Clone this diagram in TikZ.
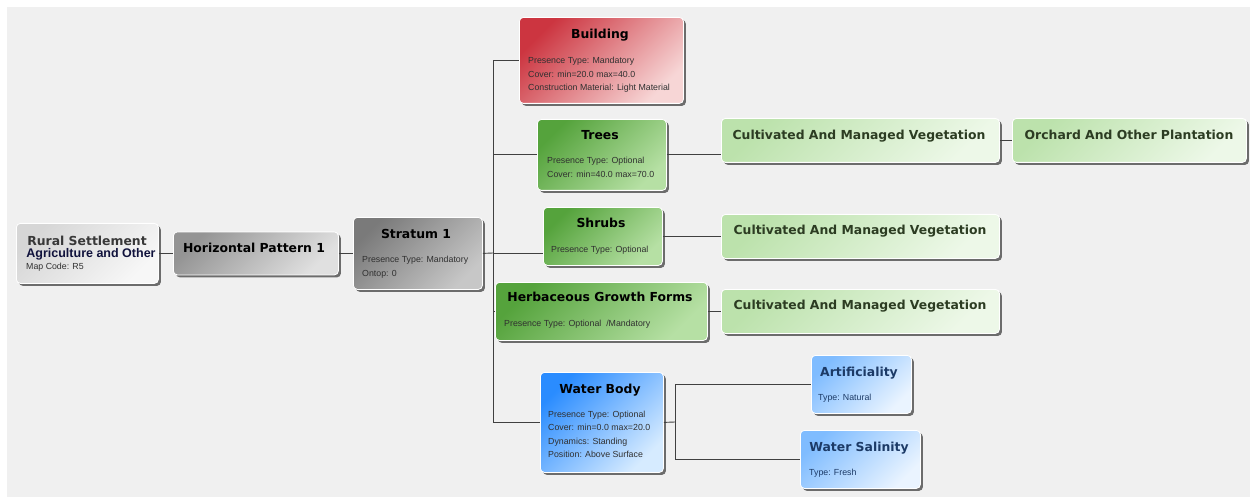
\documentclass[tikz,border=0pt]{standalone}
\usepackage{fontspec}
\setmainfont{Liberation Sans}
\newfontfamily\ttlfont{DejaVu Sans}
\usetikzlibrary{positioning,shadows}

\definecolor{bgcol}{HTML}{F0F0F0}
\definecolor{linecol}{HTML}{404040}
\definecolor{infocol}{HTML}{303030}
\definecolor{navy}{HTML}{10123C}
\definecolor{darkgreen}{HTML}{2C3C22}
\definecolor{darkblue}{HTML}{1C3A66}
\definecolor{redA}{HTML}{CC3540}
\definecolor{redB}{HTML}{F7D6D6}
\definecolor{greenA}{HTML}{55A33C}
\definecolor{greenB}{HTML}{B6E0A4}
\definecolor{paleA}{HTML}{BCE2AC}
\definecolor{paleB}{HTML}{EDF8E8}
\definecolor{blueA}{HTML}{2A8CFF}
\definecolor{blueB}{HTML}{D6EBFF}
\definecolor{skyA}{HTML}{7FBCFF}
\definecolor{skyB}{HTML}{EAF4FF}

\begin{document}
\begin{tikzpicture}[x=1pt, y=-1pt,
  box/.style={draw=white, line width=0.8pt, rounded corners=4pt, anchor=north west,
              inner sep=0pt,
              drop shadow={shadow xshift=2.5pt, shadow yshift=-2.5pt,
                           fill=black!75, opacity=0.75, draw=none}},
  tint/.style 2 args={top color=#1, bottom color=#2, shading angle=45},
  ttl/.style={font=\ttlfont\bfseries\fontsize{12.4}{14}\selectfont, inner sep=0pt, anchor=base},
  info/.style={font=\fontsize{8.8}{13.5}\selectfont, text=infocol, align=left,
               anchor=north west, inner sep=0pt},
  conn/.style={draw=linecol, line width=0.9pt}]

  \useasboundingbox (0,0) rectangle (1250,497);
  \fill[bgcol] (7,7) rectangle (1250,497);

  % left chain
  \node[box, tint={black!16}{white!97!black}, minimum width=142, minimum height=60] (rural) at (16,223) {};
  \node[ttl, text=black!78] (rural-t) at (87,245.5) {Rural Settlement};
  \node[font=\bfseries\fontsize{12.5}{14}\selectfont, text=navy, inner sep=0pt, anchor=base] (rural-s) at (91,257.5) {Agriculture and Other};
  \node[info] (rural-i) at (26,263) {Map Code: R5};

  \node[box, tint={black!42}{black!12}, minimum width=165, minimum height=43] (hp) at (173,231.5) {};
  \node[ttl] (hp-t) at (254,252.5) {Horizontal Pattern 1};

  \node[box, tint={black!52}{black!22}, minimum width=129, minimum height=72] (strat) at (353,217) {};
  \node[ttl] (strat-t) at (416,238.5) {Stratum 1};
  \node[info] (strat-i) at (362,256) {Presence Type: Mandatory\\Ontop: 0};

  % strata elements
  \node[box, tint={redA}{redB}, minimum width=164, minimum height=86] (bld) at (519,17) {};
  \node[ttl] (bld-t) at (600,38.5) {Building};
  \node[info] (bld-i) at (528,57) {Presence Type: Mandatory\\Cover: min=20.0 max=40.0\\Construction Material: Light Material};

  \node[box, tint={greenA}{greenB}, minimum width=129, minimum height=71] (trees) at (537,119) {};
  \node[ttl] (trees-t) at (600,139.5) {Trees};
  \node[info] (trees-i) at (547,157) {Presence Type: Optional\\Cover: min=40.0 max=70.0};

  \node[box, tint={greenA}{greenB}, minimum width=119, minimum height=58] (shrub) at (543,207) {};
  \node[ttl] (shrub-t) at (601,227.5) {Shrubs};
  \node[info] (shrub-i) at (551,246) {Presence Type: Optional};

  \node[box, tint={greenA}{greenB}, minimum width=212, minimum height=58] (herb) at (495,282) {};
  \node[ttl] (herb-t) at (600,301.5) {Herbaceous Growth Forms};
  \node[info] (herb-i) at (504,320) {Presence Type: Optional \ /Mandatory};

  \node[box, tint={blueA}{blueB}, minimum width=123, minimum height=100] (wb) at (540,372) {};
  \node[ttl] (wb-t) at (600,393.5) {Water Body};
  \node[info] (wb-i) at (548,410.5) {Presence Type: Optional\\Cover: min=0.0 max=20.0\\Dynamics: Standing\\Position: Above Surface};

  % properties
  \node[box, tint={paleA}{paleB}, minimum width=278, minimum height=44] (cult1) at (721,118) {};
  \node[ttl, text=darkgreen] (cult1-t) at (859,139.5) {Cultivated And Managed Vegetation};
  \node[box, tint={paleA}{paleB}, minimum width=234, minimum height=44] (orch) at (1012,118) {};
  \node[ttl, text=darkgreen] (orch-t) at (1129,139.5) {Orchard And Other Plantation};

  \node[box, tint={paleA}{paleB}, minimum width=278, minimum height=44] (cult2) at (721,214) {};
  \node[ttl, text=darkgreen] (cult2-t) at (860,235) {Cultivated And Managed Vegetation};

  \node[box, tint={paleA}{paleB}, minimum width=278, minimum height=44] (cult3) at (721,289) {};
  \node[ttl, text=darkgreen] (cult3-t) at (860,309.5) {Cultivated And Managed Vegetation};

  \node[box, tint={skyA}{skyB}, minimum width=100, minimum height=58] (art) at (811,355) {};
  \node[ttl, text=darkblue] (art-t) at (859,376.5) {Artificiality};
  \node[info, text=darkblue] (art-i) at (818,394) {Type: Natural};

  \node[box, tint={skyA}{skyB}, minimum width=120, minimum height=58] (sal) at (800,430) {};
  \node[ttl, text=darkblue] (sal-t) at (859,451.5) {Water Salinity};
  \node[info, text=darkblue] (sal-i) at (809,469) {Type: Fresh};

  % connectors
  \coordinate (fork) at (493,253);
  \coordinate (wfork) at (675,422);

  \draw[conn] (rural.east) -- (hp.west);
  \draw[conn] (hp.east) -- (strat.west);
  \draw[conn] (strat.east) -- (fork);
  \draw[conn] (fork) |- (bld.west);
  \draw[conn] (fork) |- (trees.west);
  \draw[conn] (fork) -- (fork -| shrub.west);
  \draw[conn] (fork) |- (herb.west);
  \draw[conn] (fork) |- (wb.west);
  \draw[conn] (trees.east) -- (trees.east -| cult1.west);
  \draw[conn] (cult1.east) -- (orch.west);
  \draw[conn] (shrub.east) -- (cult2.west);
  \draw[conn] (herb.east) -- (cult3.west);
  \draw[conn] (wb.east) -- (wfork);
  \draw[conn] (wfork) |- (art.west);
  \draw[conn] (wfork) |- (sal.west);

\end{tikzpicture}
\end{document}
